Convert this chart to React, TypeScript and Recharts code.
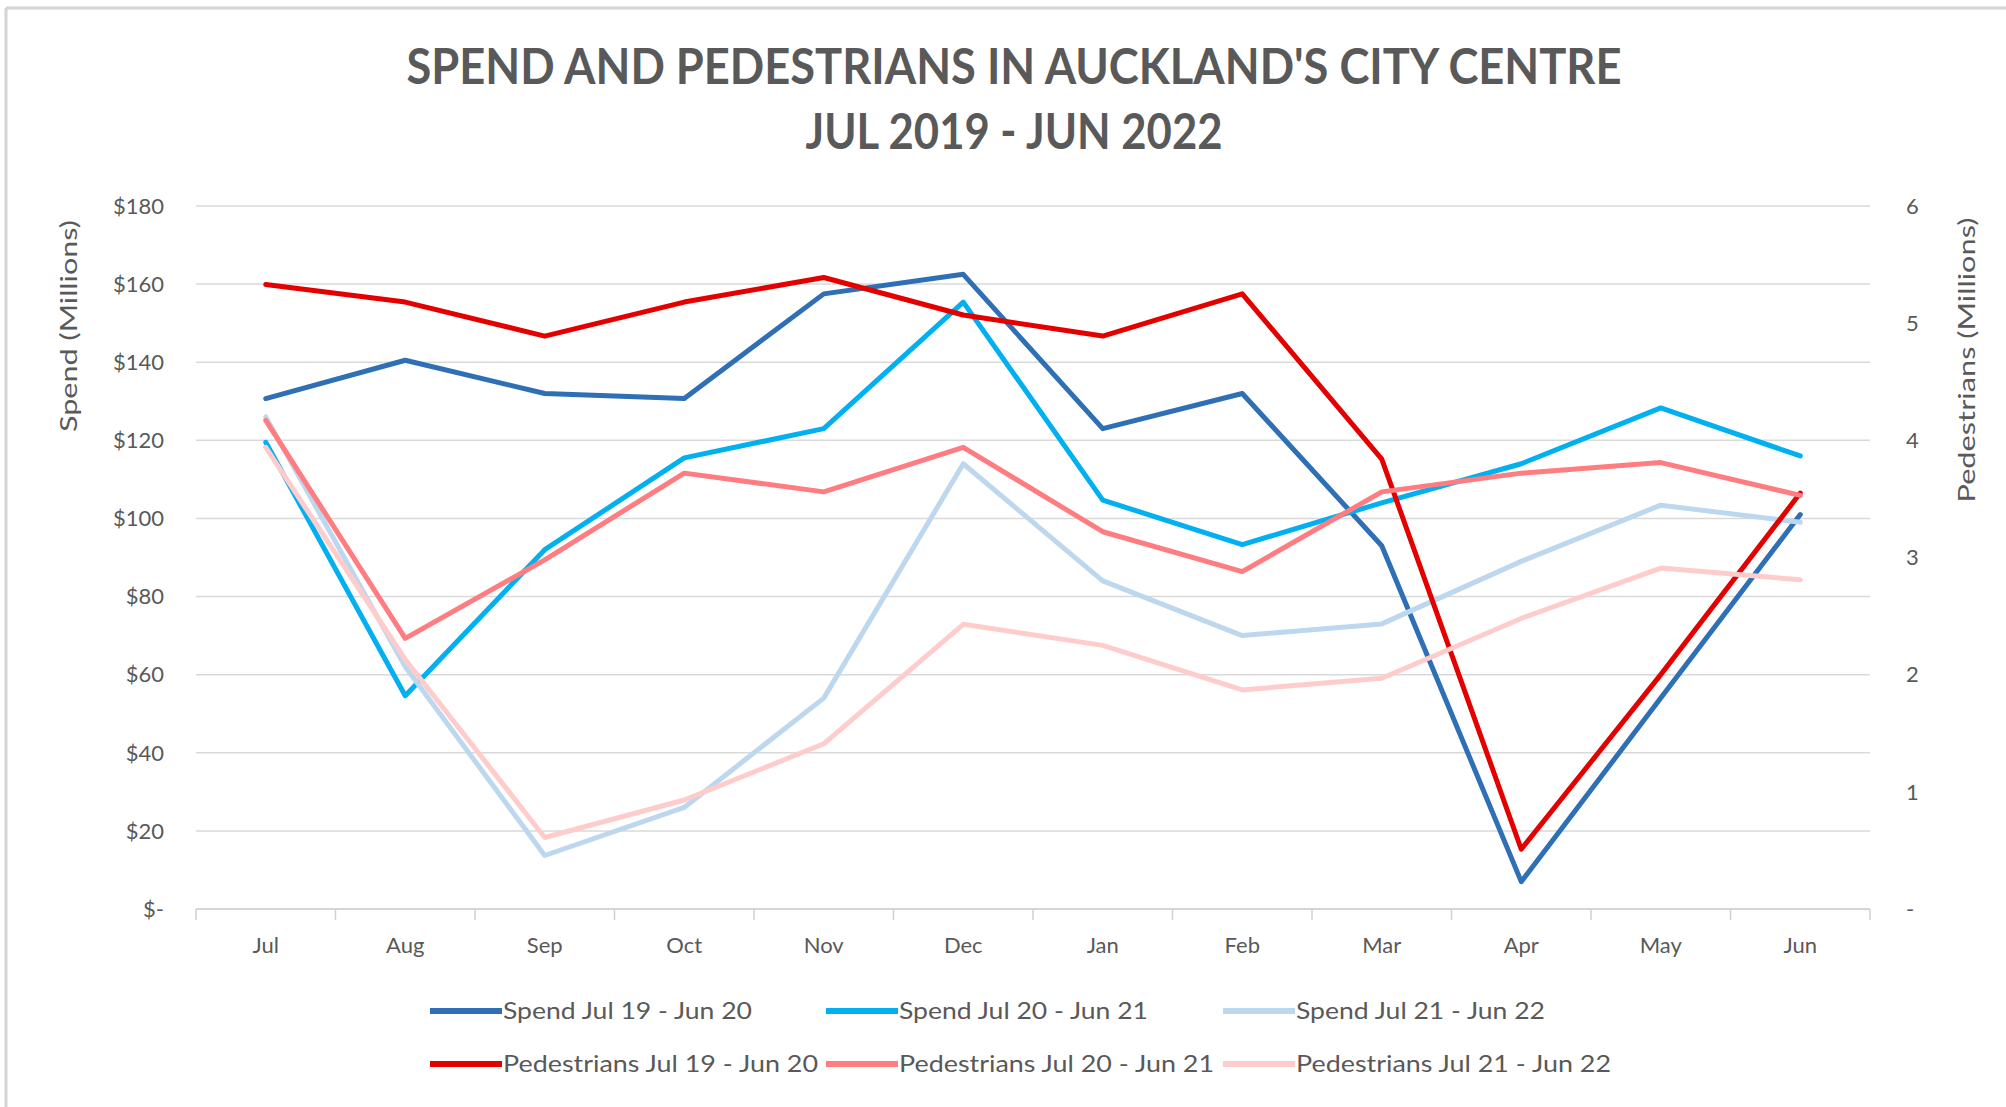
import { CartesianGrid, Line, LineChart, XAxis, YAxis } from "recharts";

const months = ["Jul", "Aug", "Sep", "Oct", "Nov", "Dec", "Jan", "Feb", "Mar", "Apr", "May", "Jun"];

// spend, $ millions
const spend1920 = [130.7, 140.5, 132, 130.7, 157.5, 162.5, 123, 132, 93, 7, 54, 101];
const spend2021 = [119.5, 54.6, 92, 115.5, 123, 155.4, 104.7, 93.3, 104, 114, 128.3, 116];
const spend2122 = [126, 62, 13.7, 26, 54, 114, 84, 70, 73, 89, 103.4, 99];

// pedestrians, millions
const peds1920 = [5.33, 5.18, 4.89, 5.18, 5.39, 5.07, 4.89, 5.25, 3.84, 0.51, 2.0, 3.55];
const peds2021 = [4.17, 2.31, 2.98, 3.72, 3.56, 3.94, 3.22, 2.88, 3.56, 3.72, 3.81, 3.53];
const peds2122 = [3.94, 2.13, 0.61, 0.93, 1.41, 2.43, 2.25, 1.87, 1.97, 2.48, 2.91, 2.81];

const spendTicks = [0, 20, 40, 60, 80, 100, 120, 140, 160, 180];
const pedTicks = [0, 1, 2, 3, 4, 5, 6];

const series = [
  { key: "s1920", name: "Spend Jul 19 - Jun 20", color: "#2E6FB5", axis: "left" },
  { key: "s2021", name: "Spend Jul 20 - Jun 21", color: "#00B0F0", axis: "left" },
  { key: "s2122", name: "Spend Jul 21 - Jun 22", color: "#BDD7EE", axis: "left" },
  { key: "p1920", name: "Pedestrians Jul 19 - Jun 20", color: "#E50000", axis: "right" },
  { key: "p2021", name: "Pedestrians Jul 20 - Jun 21", color: "#FF7C80", axis: "right" },
  { key: "p2122", name: "Pedestrians Jul 21 - Jun 22", color: "#FFCCCC", axis: "right" },
];

const data = months.map((month, i) => ({
  month,
  s1920: spend1920[i],
  s2021: spend2021[i],
  s2122: spend2122[i],
  p1920: peds1920[i],
  p2021: peds2021[i],
  p2122: peds2122[i],
}));

const W = 2006;
const H = 1107;
const PLOT_BOTTOM = 909;
const BAND = (1870 - 196) / months.length;
const GREY = "#595959";
const FONT = "Lato, 'Liberation Sans', sans-serif";

const MonthTick = ({ x, y, payload, index }: any) => (
  <g>
    <line x1={x - BAND / 2} x2={x - BAND / 2} y1={PLOT_BOTTOM} y2={PLOT_BOTTOM + 11} stroke="#d0d0d0" strokeWidth={1.5} />
    {index === months.length - 1 && (
      <line x1={x + BAND / 2} x2={x + BAND / 2} y1={PLOT_BOTTOM} y2={PLOT_BOTTOM + 11} stroke="#d0d0d0" strokeWidth={1.5} />
    )}
    <text x={x} y={y} dy={14} textAnchor="middle" fill={GREY} fontSize={22} fontFamily={FONT}>
      {payload.value}
    </text>
  </g>
);

const legendCols = [430, 826, 1223];
const legendRows = [1011, 1064];

export default function App() {
  return (
    <div style={{ position: "absolute", left: 0, top: 0, width: W, height: H, background: "#fff" }}>
      <LineChart
        width={W}
        height={H}
        data={data}
        margin={{ top: 206, right: 56, left: 96, bottom: 158 }}
      >
        <CartesianGrid yAxisId="left" vertical={false} stroke="#d9d9d9" strokeWidth={1.5} />
        <XAxis
          dataKey="month"
          height={40}
          padding={{ left: BAND / 2, right: BAND / 2 }}
          axisLine={{ stroke: "#d0d0d0", strokeWidth: 1.5 }}
          tickLine={false}
          tickSize={0}
          tickMargin={30}
          interval={0}
          tick={<MonthTick />}
        />
        <YAxis
          yAxisId="left"
          orientation="left"
          width={100}
          domain={[0, 180]}
          ticks={spendTicks}
          axisLine={false}
          tickLine={false}
          tickSize={0}
          tickMargin={32}
          tickFormatter={(v: number) => (v === 0 ? "$-" : `$${v}`)}
          tick={{ fill: GREY, fontSize: 22, fontFamily: FONT }}
        />
        <YAxis
          yAxisId="right"
          orientation="right"
          width={80}
          domain={[0, 6]}
          ticks={pedTicks}
          axisLine={false}
          tickLine={false}
          tickSize={0}
          tickMargin={36}
          tickFormatter={(v: number) => (v === 0 ? "-" : `${v}`)}
          tick={{ fill: GREY, fontSize: 22, fontFamily: FONT, textAnchor: "start" }}
        />
        {series.map((s) => (
          <Line
            key={s.key}
            yAxisId={s.axis}
            type="linear"
            dataKey={s.key}
            name={s.name}
            stroke={s.color}
            strokeWidth={5}
            strokeLinecap="round"
            strokeLinejoin="round"
            dot={false}
            activeDot={false}
            isAnimationActive={false}
          />
        ))}
      </LineChart>

      <svg
        width={W}
        height={H}
        style={{ position: "absolute", left: 0, top: 0, pointerEvents: "none" }}
      >
        <line x1={6} x2={W} y1={8} y2={8} stroke="#d4d4d4" strokeWidth={3} />
        <line x1={6} x2={6} y1={8} y2={H} stroke="#d4d4d4" strokeWidth={3} />

        <text x={1014} y={84} textAnchor="middle" fill={GREY} fontSize={50} fontWeight={700} fontFamily={FONT}
          textLength={1215} lengthAdjust="spacingAndGlyphs">
          SPEND AND PEDESTRIANS IN AUCKLAND'S CITY CENTRE
        </text>
        <text x={1014} y={149} textAnchor="middle" fill={GREY} fontSize={50} fontWeight={700} fontFamily={FONT}
          textLength={417} lengthAdjust="spacingAndGlyphs">
          JUL 2019 - JUN 2022
        </text>

        <text transform="translate(77, 326) rotate(-90)" textAnchor="middle" fill={GREY} fontSize={24} fontFamily={FONT}
          textLength={212} lengthAdjust="spacingAndGlyphs">
          Spend (Millions)
        </text>
        <text transform="translate(1975, 360) rotate(-90)" textAnchor="middle" fill={GREY} fontSize={24} fontFamily={FONT}
          textLength={285} lengthAdjust="spacingAndGlyphs">
          Pedestrians (Millions)
        </text>

        {series.map((s, i) => {
          const col = i % 3;
          const row = Math.floor(i / 3);
          const x = legendCols[col];
          const y = legendRows[row];
          const isPed = row === 1;
          return (
            <g key={s.key}>
              <line x1={x} x2={x + 72} y1={y} y2={y} stroke={s.color} strokeWidth={6} />
              <text x={x + 73} y={y + 8} fill={GREY} fontSize={24} fontFamily={FONT}
                textLength={isPed ? 315 : 249} lengthAdjust="spacingAndGlyphs">
                {s.name}
              </text>
            </g>
          );
        })}
      </svg>
    </div>
  );
}
